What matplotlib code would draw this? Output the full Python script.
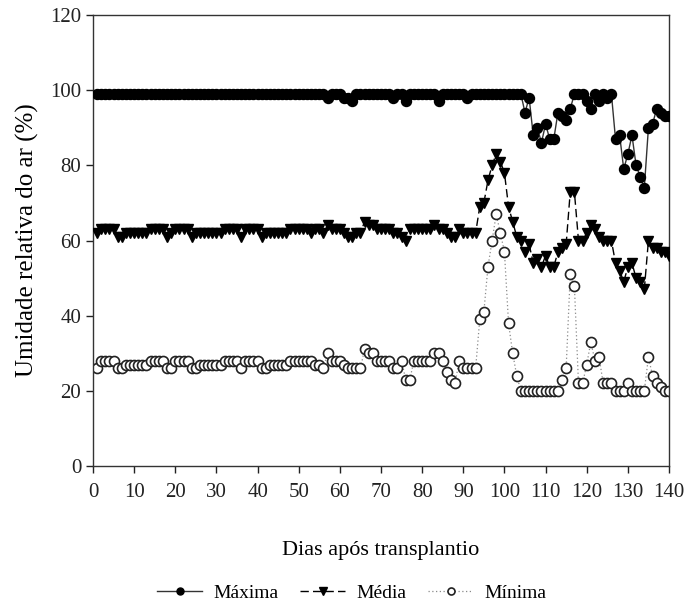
import matplotlib
matplotlib.use("Agg")
import matplotlib.pyplot as plt

plt.rcParams['font.family'] = ['Liberation Serif', 'DejaVu Serif']

# Days after transplanting
dias = list(range(1, 141))

# Maximum relative humidity (%)
maxima = [
    99, 99, 99, 99, 99, 99, 99, 99, 99, 99,
    99, 99, 99, 99, 99, 99, 99, 99, 99, 99,
    99, 99, 99, 99, 99, 99, 99, 99, 99, 99,
    99, 99, 99, 99, 99, 99, 99, 99, 99, 99,
    99, 99, 99, 99, 99, 99, 99, 99, 99, 99,
    99, 99, 99, 99, 99, 99, 98, 99, 99, 99,
    98, 98, 97, 99, 99, 99, 99, 99, 99, 99,
    99, 99, 98, 99, 99, 97, 99, 99, 99, 99,
    99, 99, 99, 97, 99, 99, 99, 99, 99, 99,
    98, 99, 99, 99, 99, 99, 99, 99, 99, 99,
    99, 99, 99, 99, 94, 98, 88, 90, 86, 91,
    87, 87, 94, 93, 92, 95, 99, 99, 99, 97,
    95, 99, 97, 99, 98, 99, 87, 88, 79, 83,
    88, 80, 77, 74, 90, 91, 95, 94, 93, 93,
]

# Mean relative humidity (%)
media = [
    62, 63, 63, 63, 63, 61, 61, 62, 62, 62,
    62, 62, 62, 63, 63, 63, 63, 61, 62, 63,
    63, 63, 63, 61, 62, 62, 62, 62, 62, 62,
    62, 63, 63, 63, 63, 61, 63, 63, 63, 63,
    61, 62, 62, 62, 62, 62, 62, 63, 63, 63,
    63, 63, 62, 63, 63, 62, 64, 63, 63, 63,
    62, 61, 61, 62, 62, 65, 64, 64, 63, 63,
    63, 63, 62, 62, 61, 60, 63, 63, 63, 63,
    63, 63, 64, 63, 63, 62, 61, 61, 63, 62,
    62, 62, 62, 69, 70, 76, 80, 83, 81, 78,
    69, 65, 61, 60, 57, 59, 54, 55, 53, 56,
    53, 53, 57, 58, 59, 73, 73, 60, 60, 62,
    64, 63, 61, 60, 60, 60, 54, 52, 49, 53,
    54, 50, 49, 47, 60, 58, 58, 57, 57, 56,
]

# Minimum relative humidity (%)
minima = [
    26, 28, 28, 28, 28, 26, 26, 27, 27, 27,
    27, 27, 27, 28, 28, 28, 28, 26, 26, 28,
    28, 28, 28, 26, 26, 27, 27, 27, 27, 27,
    27, 28, 28, 28, 28, 26, 28, 28, 28, 28,
    26, 26, 27, 27, 27, 27, 27, 28, 28, 28,
    28, 28, 28, 27, 27, 26, 30, 28, 28, 28,
    27, 26, 26, 26, 26, 31, 30, 30, 28, 28,
    28, 28, 26, 26, 28, 23, 23, 28, 28, 28,
    28, 28, 30, 30, 28, 25, 23, 22, 28, 26,
    26, 26, 26, 39, 41, 53, 60, 67, 62, 57,
    38, 30, 24, 20, 20, 20, 20, 20, 20, 20,
    20, 20, 20, 23, 26, 51, 48, 22, 22, 27,
    33, 28, 29, 22, 22, 22, 20, 20, 20, 22,
    20, 20, 20, 20, 29, 24, 22, 21, 20, 20,
]

xticks = list(range(0, 141, 10))
yticks = list(range(0, 121, 20))

fig = plt.figure(figsize=(6.85, 6.05), dpi=100)
ax = fig.add_axes([93 / 685, 1 - 466 / 605, (669 - 93) / 685, (466 - 15) / 605])

ms = 7.2
ax.plot(dias, minima, linestyle=(0, (1, 2)), color='#8a8a8a', linewidth=0.9,
        marker='o', markersize=ms, markerfacecolor='white',
        markeredgecolor='#222222', markeredgewidth=1.2, label='Mínima', zorder=2)
ax.plot(dias, media, linestyle=(0, (6, 3)), color='black', linewidth=1.0,
        marker='v', markersize=ms + 0.6, markerfacecolor='black',
        markeredgecolor='black', label='Média', zorder=3)
ax.plot(dias, maxima, linestyle='-', color='#333333', linewidth=1.0,
        marker='o', markersize=ms, markerfacecolor='black',
        markeredgecolor='black', label='Máxima', zorder=4)

ax.set_xlim(0, 140)
ax.set_ylim(0, 120)
ax.set_xticks(xticks)
ax.set_yticks(yticks)
ax.tick_params(axis='both', direction='out', length=5, width=1, labelsize=15,
               colors='#222222')
ax.tick_params(axis='x', pad=7)
for s in ax.spines.values():
    s.set_linewidth(1.0)
    s.set_color('#333333')

ax.set_xlabel('Dias após transplantio', fontsize=16, labelpad=28)
ax.set_ylabel('Umidade relativa do ar (%)', fontsize=18, labelpad=8)

h, l = ax.get_legend_handles_labels()
order = [2, 1, 0]
fig.legend([h[i] for i in order], [l[i] for i in order], loc='center',
           bbox_to_anchor=(352 / 685, 1 - 593 / 605), ncol=3, frameon=False,
           fontsize=14, handlelength=2.3, columnspacing=1.1, handletextpad=0.6,
           markerscale=0.7)

fig.savefig('out.png', dpi=100)
